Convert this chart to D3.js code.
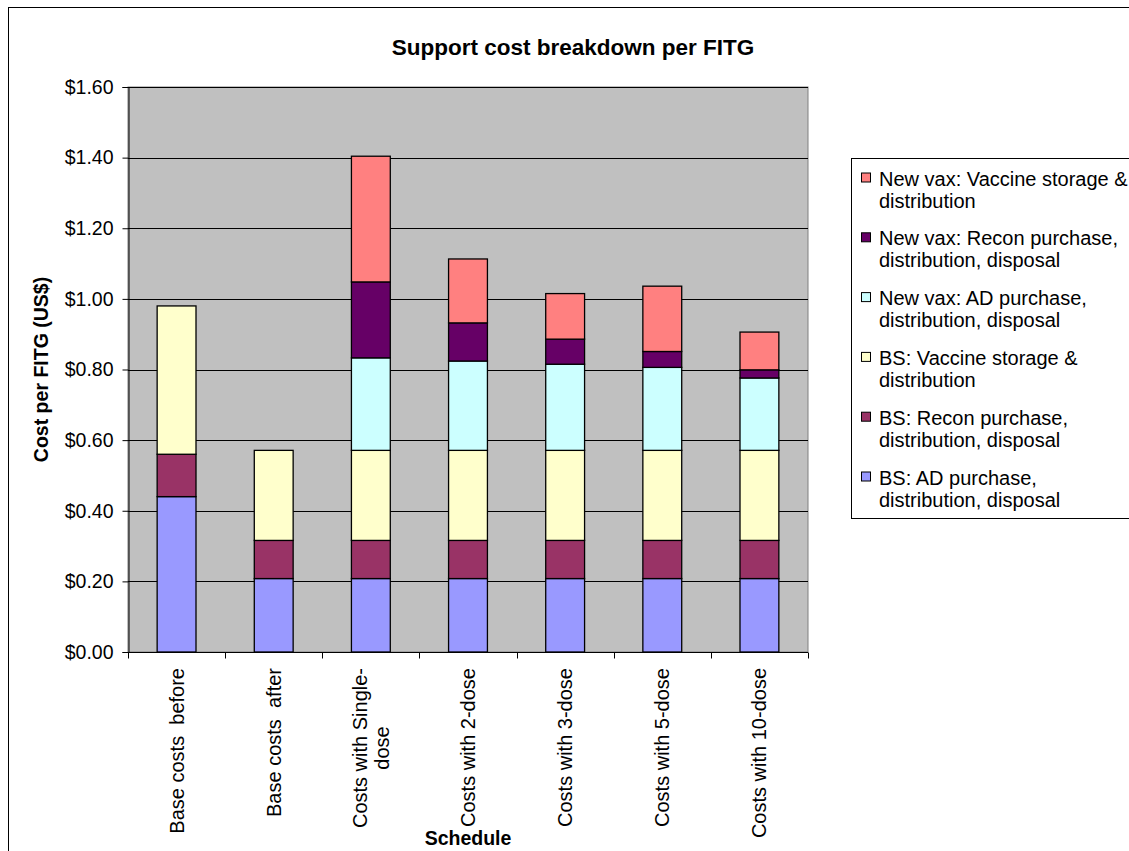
<!DOCTYPE html>
<html>
<head>
<meta charset="utf-8">
<script src="https://cdn.jsdelivr.net/npm/d3@7"></script>
<style>
  html, body { margin: 0; padding: 0; background: #ffffff; }
  svg { display: block; }
  text { font-family: "Liberation Sans", Arial, sans-serif; fill: #000; }
</style>
</head>
<body>
<svg id="chart" width="1129" height="851"></svg>
<script>
// Schedules on the x axis ("\n" marks a manual line break)
const categories = [
  "Base costs  before",
  "Base costs  after",
  "Costs with Single-\ndose",
  "Costs with 2-dose",
  "Costs with 3-dose",
  "Costs with 5-dose",
  "Costs with 10-dose"
];

// Cost components, US$ per FITG
const bsAD        = [0.440, 0.208, 0.208, 0.208, 0.208, 0.208, 0.208];
const bsRecon     = [0.120, 0.108, 0.108, 0.108, 0.108, 0.108, 0.108];
const bsStorage   = [0.420, 0.255, 0.255, 0.255, 0.255, 0.255, 0.255];
const nvAD        = [0, 0, 0.262, 0.253, 0.244, 0.235, 0.205];
const nvRecon     = [0, 0, 0.215, 0.108, 0.071, 0.045, 0.023];
const nvStorage   = [0, 0, 0.356, 0.181, 0.129, 0.185, 0.107];

// Series in stacking order (bottom to top)
const seriesKeys = ["bsAD", "bsRecon", "bsStorage", "nvAD", "nvRecon", "nvStorage"];
const seriesNames = {
  bsAD: ["BS: AD purchase,", "distribution, disposal"],
  bsRecon: ["BS: Recon purchase,", "distribution, disposal"],
  bsStorage: ["BS: Vaccine storage &", "distribution"],
  nvAD: ["New vax: AD purchase,", "distribution, disposal"],
  nvRecon: ["New vax: Recon purchase,", "distribution, disposal"],
  nvStorage: ["New vax: Vaccine storage &", "distribution"]
};
const seriesColors = {
  bsAD: "#9999FF",
  bsRecon: "#993366",
  bsStorage: "#FFFFCC",
  nvAD: "#CCFFFF",
  nvRecon: "#660066",
  nvStorage: "#FF8080"
};
const seriesValues = { bsAD, bsRecon, bsStorage, nvAD, nvRecon, nvStorage };

// Y axis ticks
const yTicks = [0, 0.2, 0.4, 0.6, 0.8, 1.0, 1.2, 1.4, 1.6];

const rows = categories.map((c, i) => {
  const r = { category: c };
  seriesKeys.forEach(k => { r[k] = seriesValues[k][i]; });
  return r;
});

const svg = d3.select("#chart");
const plot = { left: 128, right: 808, top: 87, bottom: 652 };
const fontSize = 20;

const x = d3.scaleBand().domain(categories).range([plot.left, plot.right]).padding(0);
const y = d3.scaleLinear().domain([0, 1.6]).range([plot.bottom, plot.top]);
const barW = x.bandwidth() * 0.4;

// Chart area border (continues past the visible frame on the right and bottom)
svg.append("rect")
  .attr("x", 8.5).attr("y", 7.5)
  .attr("width", 1300).attr("height", 1000)
  .attr("fill", "#fff").attr("stroke", "#000").attr("stroke-width", 1);

// Plot area background
svg.append("rect")
  .attr("x", plot.left).attr("y", plot.top)
  .attr("width", plot.right - plot.left).attr("height", plot.bottom - plot.top)
  .attr("fill", "#C0C0C0").attr("stroke", "#808080").attr("stroke-width", 1);

// Horizontal gridlines
svg.append("g").selectAll("line")
  .data(yTicks.filter(d => d > 0))
  .join("line")
  .attr("x1", plot.left).attr("x2", plot.right)
  .attr("y1", d => Math.round(y(d)) + 0.5).attr("y2", d => Math.round(y(d)) + 0.5)
  .attr("stroke", "#000").attr("stroke-width", 1);

// Stacked bars
const stacked = d3.stack().keys(seriesKeys)(rows);
svg.append("g").selectAll("g")
  .data(stacked)
  .join("g")
  .attr("fill", d => seriesColors[d.key])
  .selectAll("rect")
  .data(d => d.filter(s => s[1] - s[0] > 0))
  .join("rect")
  .attr("x", d => x(d.data.category) + (x.bandwidth() - barW) / 2)
  .attr("y", d => y(d[1]))
  .attr("width", barW)
  .attr("height", d => y(d[0]) - y(d[1]))
  .attr("stroke", "#000").attr("stroke-width", 1.3);

// Y axis
const yAxis = d3.axisLeft(y)
  .tickValues(yTicks)
  .tickSize(6)
  .tickPadding(9)
  .tickFormat(d => "$" + d.toFixed(2));
const yg = svg.append("g").attr("transform", `translate(${plot.left + 0.5},0)`).call(yAxis);
yg.select(".domain").attr("stroke", "#000");
yg.selectAll(".tick line").attr("stroke", "#000");
yg.selectAll(".tick text")
  .attr("font-size", 19.5)
  .attr("font-family", "'Liberation Sans', Arial, sans-serif")
  .attr("fill", "#000");

// X axis: ticks on category boundaries
const xg = svg.append("g").attr("transform", `translate(0,${plot.bottom + 0.5})`);
xg.append("line")
  .attr("x1", plot.left).attr("x2", plot.right)
  .attr("stroke", "#000");
const boundaries = categories.map(c => x(c)).concat([plot.right]);
xg.selectAll("line.tk")
  .data(boundaries)
  .join("line")
  .attr("class", "tk")
  .attr("x1", d => Math.round(d) + 0.5).attr("x2", d => Math.round(d) + 0.5)
  .attr("y1", 0).attr("y2", 6)
  .attr("stroke", "#000");

// Rotated category labels; multi-line labels are centred within their block
const labelTop = 668;
const lineGap = 22;
categories.forEach(c => {
  const lines = c.split("\n");
  const g = svg.append("g");
  const texts = lines.map(l => g.append("text")
    .attr("font-size", fontSize)
    .style("white-space", "pre")
    .attr("text-anchor", "middle")
    .text(l));
  const maxLen = d3.max(texts, t => t.node().getComputedTextLength());
  const cx = x(c) + x.bandwidth() / 2;
  const cy = labelTop + maxLen / 2;
  const n = lines.length;
  texts.forEach((t, i) => {
    const off = (i - (n - 1) / 2) * lineGap;
    t.attr("transform", `translate(${cx + off + 7},${cy}) rotate(-90)`);
  });
});

// Title
svg.append("text")
  .attr("x", 573).attr("y", 54.5)
  .attr("text-anchor", "middle")
  .attr("font-size", 22.5).attr("font-weight", "bold")
  .text("Support cost breakdown per FITG");

// Axis titles
svg.append("text")
  .attr("transform", `translate(48,${(plot.top + plot.bottom) / 2}) rotate(-90)`)
  .attr("text-anchor", "middle")
  .attr("font-size", 19.5).attr("font-weight", "bold")
  .text("Cost per FITG (US$)");

svg.append("text")
  .attr("x", (plot.left + plot.right) / 2).attr("y", 845)
  .attr("text-anchor", "middle")
  .attr("font-size", 19.5).attr("font-weight", "bold")
  .text("Schedule");

// Legend (top entry is the top of the stack)
const legend = svg.append("g");
legend.append("rect")
  .attr("x", 851.5).attr("y", 158.5)
  .attr("width", 400).attr("height", 360)
  .attr("fill", "#fff").attr("stroke", "#000").attr("stroke-width", 1);
const legendKeys = seriesKeys.slice().reverse();
const legendPitch = 59.8;
legendKeys.forEach((k, i) => {
  const base = 185.5 + i * legendPitch;
  legend.append("rect")
    .attr("x", 861.5).attr("y", base - 12.5)
    .attr("width", 9).attr("height", 9)
    .attr("fill", seriesColors[k]).attr("stroke", "#000").attr("stroke-width", 1);
  seriesNames[k].forEach((line, j) => {
    legend.append("text")
      .attr("x", 879).attr("y", base + j * 22)
      .attr("font-size", fontSize)
      .text(line);
  });
});
</script>
</body>
</html>
